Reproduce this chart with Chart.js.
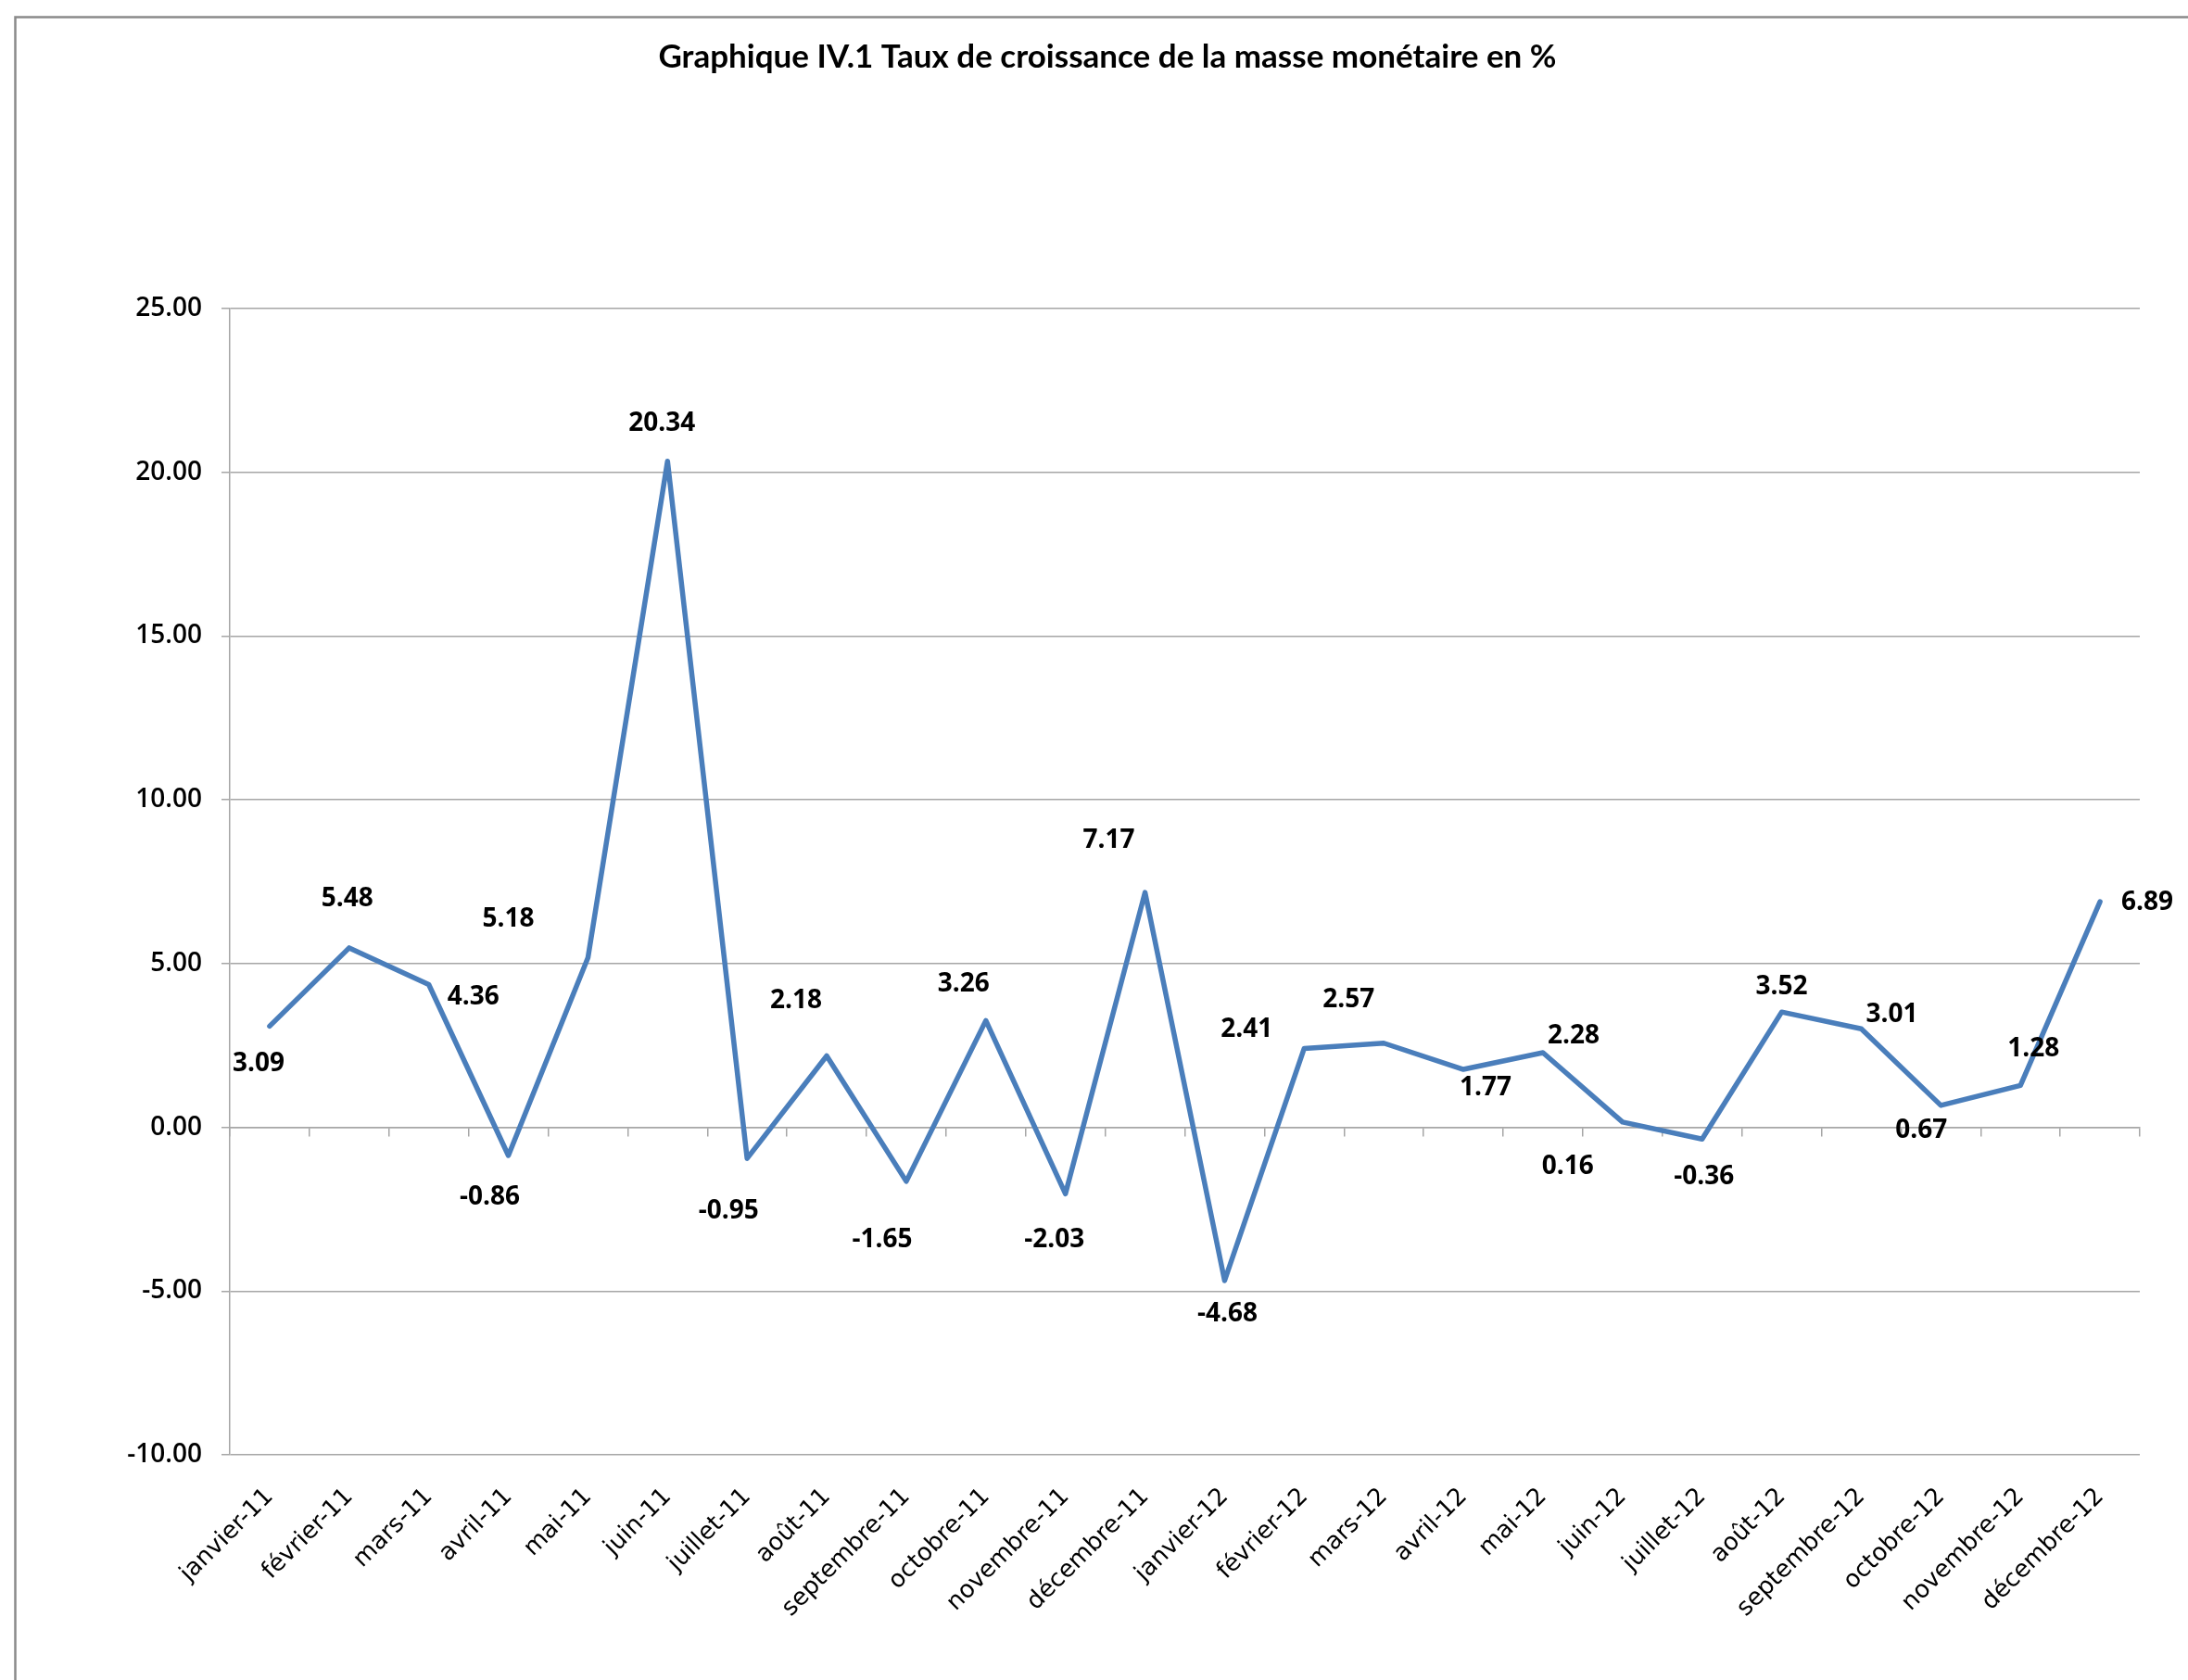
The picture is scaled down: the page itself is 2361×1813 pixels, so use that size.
<!DOCTYPE html>
<html>
<head>
<meta charset="utf-8">
<script src="https://cdn.jsdelivr.net/npm/chart.js@4/dist/chart.umd.min.js"></script>
<style>
  html, body { margin: 0; padding: 0; background: #ffffff; }
  #wrap { width: 2361px; height: 1813px; }
</style>
</head>
<body>
<div id="wrap"><canvas id="c" width="2361" height="1813"></canvas></div>
<script>
// ---- Data ----
const TITLE = "Graphique IV.1 Taux de croissance de la masse monétaire en %";
const categories = [
  "janvier-11", "février-11", "mars-11", "avril-11", "mai-11", "juin-11",
  "juillet-11", "août-11", "septembre-11", "octobre-11", "novembre-11", "décembre-11",
  "janvier-12", "février-12", "mars-12", "avril-12", "mai-12", "juin-12",
  "juillet-12", "août-12", "septembre-12", "octobre-12", "novembre-12", "décembre-12"
];
const growthRates = [
  3.09, 5.48, 4.36, -0.86, 5.18, 20.34,
  -0.95, 2.18, -1.65, 3.26, -2.03, 7.17,
  -4.68, 2.41, 2.57, 1.77, 2.28, 0.16,
  -0.36, 3.52, 3.01, 0.67, 1.28, 6.89
];
const yTickMin = -10;
const yTickMax = 25;
const yTickStep = 5;

// ---- Label placement (pixel offsets from each point, layout only) ----
const labelOffsets = [
  [-12, 41], [-2, -53], [48, 14], [-20, 45], [-86, -41], [-6, -41],
  [-20, 57], [-33, -59], [-26, 63], [-24, -39], [-12, 50], [-39, -56],
  [3, 36], [-62, -20], [-38, -47], [24, 20], [33, -18], [-59, 48],
  [2, 41], [0, -27], [33, -15], [-21, 27], [14, -39], [51, 1]
];

const GRID = '#a6a6a6';
const LINE = '#4a7ebb';
const NUM_FONT = '"Open Sans", "Noto Sans", sans-serif';

const framePlugin = {
  id: 'frame',
  beforeDraw(chart) {
    const ctx = chart.ctx;
    ctx.save();
    ctx.fillStyle = '#ffffff';
    ctx.fillRect(0, 0, chart.width, chart.height);
    ctx.strokeStyle = '#8a8a8a';
    ctx.lineWidth = 2.5;
    ctx.strokeRect(16.5, 18.5, chart.width + 50, chart.height + 50);
    // title
    ctx.fillStyle = '#000000';
    ctx.font = '700 35px Lato, "Open Sans", sans-serif';
    ctx.textAlign = 'center';
    ctx.textBaseline = 'middle';
    ctx.fillText(TITLE, 1195, 62);
    ctx.restore();
  }
};

const dataLabelPlugin = {
  id: 'dataLabels',
  afterDatasetsDraw(chart) {
    const ctx = chart.ctx;
    const meta = chart.getDatasetMeta(0);
    const values = chart.data.datasets[0].data;
    ctx.save();
    ctx.fillStyle = '#000000';
    ctx.font = '700 28px ' + NUM_FONT;
    ctx.textAlign = 'center';
    ctx.textBaseline = 'middle';
    meta.data.forEach((pt, i) => {
      const off = labelOffsets[i] || [0, -30];
      ctx.fillText(values[i].toFixed(2), pt.x + off[0], pt.y + off[1]);
    });
    ctx.restore();
  }
};

new Chart(document.getElementById('c'), {
  type: 'line',
  data: {
    labels: categories,
    datasets: [{
      label: 'Taux de croissance',
      data: growthRates,
      borderColor: LINE,
      backgroundColor: LINE,
      borderWidth: 5.5,
      tension: 0,
      pointRadius: 0,
      pointHoverRadius: 0,
      borderJoinStyle: 'round',
      borderCapStyle: 'round',
      fill: false,
      clip: false
    }]
  },
  options: {
    responsive: false,
    animation: false,
    devicePixelRatio: 1,
    layout: { padding: { left: 0, right: 52, top: 333, bottom: 0 } },
    plugins: {
      legend: { display: false },
      tooltip: { enabled: false },
      title: { display: false }
    },
    scales: {
      x: {
        type: 'category',
        position: 'bottom',
        offset: true,
        grid: { display: false, drawTicks: false },
        border: { display: false },
        ticks: {
          autoSkip: false,
          maxRotation: 45,
          minRotation: 45,
          padding: 30,
          color: '#000000',
          font: { family: '"DejaVu Sans", Verdana, sans-serif', size: 26 }
        },
        afterFit(scale) { scale.height = 243; }
      },
      xZero: {
        type: 'category',
        position: { y: 0 },
        offset: true,
        grid: { display: true, drawOnChartArea: false, drawTicks: true, tickLength: 9, offset: true, color: GRID, lineWidth: 1.5 },
        border: { display: true, color: GRID, width: 1.5 },
        ticks: { display: false, autoSkip: false }
      },
      y: {
        type: 'linear',
        position: 'left',
        min: yTickMin,
        max: yTickMax,
        grid: { color: GRID, lineWidth: 1.5, drawTicks: true, tickLength: 9 },
        border: { display: true, color: GRID, width: 1.5 },
        ticks: {
          stepSize: yTickStep,
          padding: 21,
          color: '#000000',
          font: { family: NUM_FONT, size: 28, weight: '600' },
          callback: (v) => Number(v).toFixed(2)
        },
        afterFit(scale) { scale.width = 248; }
      }
    }
  },
  plugins: [framePlugin, dataLabelPlugin]
});
</script>
</body>
</html>
